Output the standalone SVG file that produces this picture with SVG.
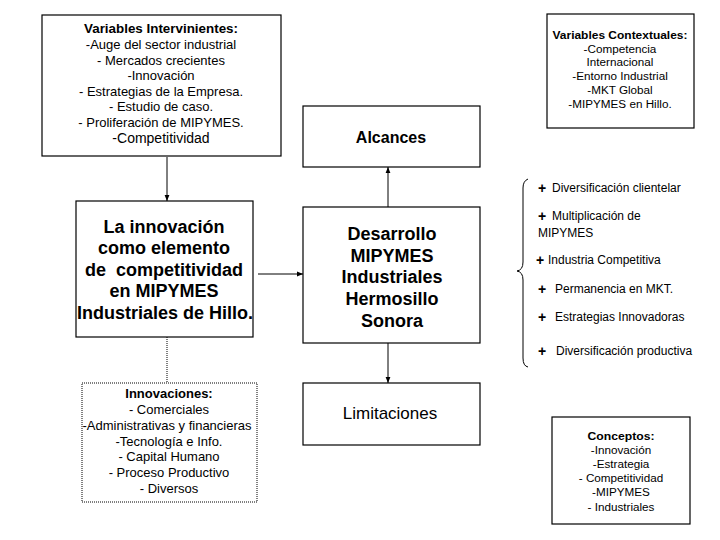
<svg xmlns="http://www.w3.org/2000/svg" width="720" height="540" viewBox="0 0 720 540">
<defs>
<style>
text{font-family:"Liberation Sans",Arial,sans-serif;fill:#000;text-anchor:middle}
.box{fill:#fff;stroke:#000;stroke-width:1.2}
.dot{fill:#fff;stroke:#000;stroke-width:1;stroke-dasharray:1,1}
.t13{font-size:13px}
.b13{font-size:13px;font-weight:bold}
.t11{font-size:11.7px}
.b11{font-size:11.7px;font-weight:bold}
.big{font-size:18px;font-weight:bold}
.mid{font-size:17px}
.li{font-size:12px;text-anchor:start}
.pl{font-size:14px;font-weight:bold;text-anchor:start}
.con{stroke:#000;stroke-width:1;fill:none}
</style>
<marker id="ah" viewBox="0 0 10 10" refX="10" refY="5" markerWidth="6" markerHeight="6" markerUnits="userSpaceOnUse" orient="auto">
<path d="M0,1 L10,5 L0,9 z" fill="#000"/>
</marker>
</defs>
<rect width="720" height="540" fill="#fff"/>

<g id="connectors">
<line class="con" x1="167" y1="157" x2="167" y2="201" marker-end="url(#ah)"/>
<line class="con" x1="258" y1="274" x2="303" y2="274" marker-end="url(#ah)"/>
<line class="con" x1="388" y1="207" x2="388" y2="167" marker-end="url(#ah)"/>
<line class="con" x1="388" y1="343" x2="388" y2="383" marker-end="url(#ah)"/>
<line class="con" x1="167" y1="337" x2="167" y2="383" stroke-dasharray="1,1"/>
</g>

<g id="variables-intervinientes">
<rect class="box" x="42" y="15" width="239" height="141"/>
<text class="b13" x="161" y="33" textLength="154" lengthAdjust="spacingAndGlyphs">Variables Intervinientes:</text>
<text class="t13" x="161" y="49">-Auge del sector industrial</text>
<text class="t13" x="161" y="65">- Mercados crecientes</text>
<text class="t13" x="161" y="80">-Innovación</text>
<text class="t13" x="161" y="96">- Estrategias de la Empresa.</text>
<text class="t13" x="161" y="111">- Estudio de caso.</text>
<text class="t13" x="161" y="127">- Proliferación de MIPYMES.</text>
<text class="t13" x="161" y="143" style="font-size:14px">-Competitividad</text>
</g>

<g id="variables-contextuales">
<rect class="box" x="547" y="14" width="147" height="114"/>
<text class="b11" x="620" y="39" textLength="135" lengthAdjust="spacingAndGlyphs">Variables Contextuales:</text>
<text class="t11" x="620" y="53">-Competencia</text>
<text class="t11" x="620" y="66">Internacional</text>
<text class="t11" x="620" y="80">-Entorno Industrial</text>
<text class="t11" x="620" y="94">-MKT Global</text>
<text class="t11" x="620" y="108">-MIPYMES en Hillo.</text>
</g>

<g id="innovacion">
<rect class="box" x="76" y="201" width="177" height="136"/>
<text class="big" x="164" y="233">La innovación</text>
<text class="big" x="164" y="254">como elemento</text>
<text class="big" x="164" y="276" xml:space="preserve">de  competitividad</text>
<text class="big" x="164" y="297">en MIPYMES</text>
<text class="big" x="165" y="319">Industriales de Hillo.</text>
</g>

<g id="alcances">
<rect class="box" x="303" y="106" width="177" height="61"/>
<text class="mid" x="391" y="143" style="font-weight:bold;font-size:16px">Alcances</text>
</g>

<g id="desarrollo">
<rect class="box" x="303" y="207" width="177" height="136"/>
<text class="big" x="392" y="240">Desarrollo</text>
<text class="big" x="392" y="262">MIPYMES</text>
<text class="big" x="392" y="283">Industriales</text>
<text class="big" x="392" y="305">Hermosillo</text>
<text class="big" x="392" y="327">Sonora</text>
</g>

<g id="limitaciones">
<rect class="box" x="303" y="383" width="177" height="62"/>
<text class="mid" x="390" y="419">Limitaciones</text>
</g>

<g id="innovaciones">
<rect class="dot" x="82" y="383" width="175" height="119"/>
<text class="b13" x="169" y="398">Innovaciones:</text>
<text class="t13" x="169" y="414">- Comerciales</text>
<text class="t13" x="167" y="430">-Administrativas y financieras</text>
<text class="t13" x="169" y="446">-Tecnología e Info.</text>
<text class="t13" x="169" y="461">- Capital Humano</text>
<text class="t13" x="169" y="477">- Proceso Productivo</text>
<text class="t13" x="169" y="493">- Diversos</text>
</g>

<g id="conceptos">
<rect class="box" x="552" y="417" width="138" height="107"/>
<text class="b11" x="621" y="440" textLength="67" lengthAdjust="spacingAndGlyphs">Conceptos:</text>
<text class="t11" x="621" y="454">-Innovación</text>
<text class="t11" x="621" y="468">-Estrategia</text>
<text class="t11" x="621" y="482">- Competitividad</text>
<text class="t11" x="621" y="496">-MIPYMES</text>
<text class="t11" x="621" y="511">- Industriales</text>
</g>

<g id="resultados">
<path class="con" d="M528,179 Q523,181 523,188 L523,262 Q523,270 517,271 Q523,272 523,280 L523,358 Q523,366 528,367"/>
<text class="pl" x="538" y="193">+</text>
<text class="li" x="552" y="192">Diversificación clientelar</text>
<text class="pl" x="538" y="221">+</text>
<text class="li" x="552" y="220">Multiplicación de</text>
<text class="li" x="538" y="237">MIPYMES</text>
<text class="pl" x="536" y="265">+</text>
<text class="li" x="548" y="264">Industria Competitiva</text>
<text class="pl" x="538" y="294">+</text>
<text class="li" x="555" y="293">Permanencia en MKT.</text>
<text class="pl" x="538" y="322">+</text>
<text class="li" x="555" y="321">Estrategias Innovadoras</text>
<text class="pl" x="538" y="356">+</text>
<text class="li" x="556" y="355">Diversificación productiva</text>
</g>
</svg>
